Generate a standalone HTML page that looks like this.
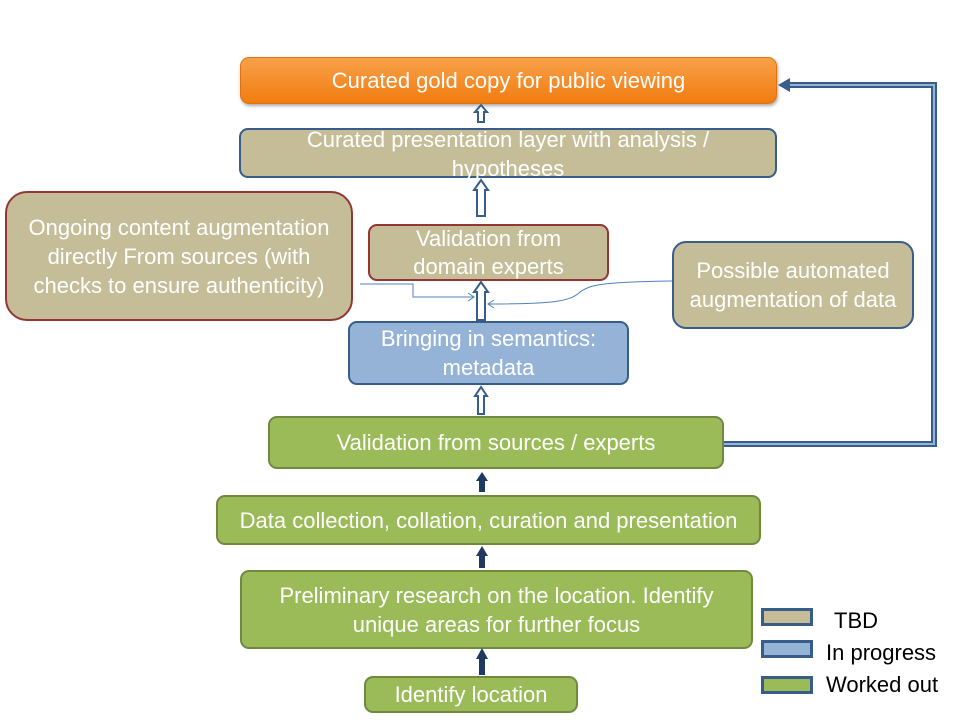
<!DOCTYPE html>
<html><head><style>
body{margin:0;width:960px;height:721px;background:#fff;position:relative;overflow:hidden;font-family:"Liberation Sans",sans-serif}
.b{position:absolute;box-sizing:border-box;display:flex;align-items:center;justify-content:center;text-align:center;color:#fff;font-size:22px;line-height:29px;border-radius:9px;border:2.5px solid #385d8a;white-space:nowrap}
.tan{background:#c4bd97}
.grn{background:#9bbb59;border-color:#71893f}
.leg{position:absolute;width:52px;height:18px;box-sizing:border-box;border:3px solid #385d8a}
.lt{position:absolute;font-size:22px;color:#000}
</style></head><body>
<div class="b" style="left:240px;top:57px;width:537px;height:47px;background:linear-gradient(#f9a14a,#f07c10);border:1px solid #e07010;box-shadow:1px 2px 3px #aaa">Curated gold copy for public viewing</div>
<div class="b tan" style="left:239px;top:128px;width:538px;height:50px;align-items:flex-start;overflow:visible"><div style="margin-top:-5px">Curated presentation layer with analysis /<br>hypotheses</div></div>
<div class="b tan" style="left:5px;top:191px;width:348px;height:130px;border-color:#943634;border-radius:22px">Ongoing content augmentation<br>directly From sources (with<br>checks to ensure authenticity)</div>
<div class="b tan" style="left:368px;top:224px;width:241px;height:57px;border-color:#943634;line-height:28px">Validation from<br>domain experts</div>
<div class="b tan" style="left:672px;top:241px;width:242px;height:88px;border-radius:14px">Possible automated<br>augmentation of data</div>
<div class="b" style="left:348px;top:321px;width:281px;height:64px;background:#95b3d7">Bringing in semantics:<br>metadata</div>
<div class="b grn" style="left:268px;top:416px;width:456px;height:53px">Validation from sources / experts</div>
<div class="b grn" style="left:216px;top:495px;width:545px;height:50px">Data collection, collation, curation and presentation</div>
<div class="b grn" style="left:240px;top:570px;width:513px;height:79px">Preliminary research on the location. Identify<br>unique areas for further focus</div>
<div class="b grn" style="left:364px;top:676px;width:214px;height:37px">Identify location</div>
<svg style="position:absolute;left:0;top:0" width="960" height="721">
<g fill="#fff" stroke="#385d8a" stroke-width="2">
<path d="M478,122 V112 H475 L481,105 L487,112 H484 V122 Z"/>
<path d="M477,216 V190 H474 L481,180 L488,190 H485 V216 Z"/>
<path d="M477,320 V292 H474 L481,282 L488,292 H485 V320 Z"/>
<path d="M478,414 V396 H475 L481,387 L487,396 H484 V414 Z"/>
</g>
<g fill="#1f3a60">
<path d="M479,492 V481 H476 L482,472 L488,481 H485 V492 Z"/>
<path d="M479,568 V556 H476 L482,546 L488,556 H485 V568 Z"/>
<path d="M479,675 V659 H476 L482,648 L488,659 H485 V675 Z"/>
</g>
<path d="M360,284 H413 V297 H474" fill="none" stroke="#4f81bd" stroke-width="1"/>
<path d="M468,293 L474,297 L468,301" fill="none" stroke="#4f81bd"/>
<path d="M672,281 C600,282 590,285 580,292 C570,302 550,304 488,304" fill="none" stroke="#4f81bd" stroke-width="1"/>
<path d="M494,300 L488,304 L494,308" fill="none" stroke="#4f81bd"/>
<path d="M724,444 H934 V85 H784" fill="none" stroke="#385d8a" stroke-width="6"/>
<path d="M724,444 H934 V85 H784" fill="none" stroke="#95b3d7" stroke-width="2"/>
<path d="M778,85 L790,78 L790,92 Z" fill="#385d8a"/>
</svg>
<div class="leg" style="left:761px;top:608px;background:#c4bd97"></div>
<div class="leg" style="left:761px;top:640px;background:#95b3d7"></div>
<div class="leg" style="left:761px;top:676px;background:#9bbb59"></div>
<div class="lt" style="left:834px;top:608px">TBD</div>
<div class="lt" style="left:826px;top:640px">In progress</div>
<div class="lt" style="left:826px;top:672px">Worked out</div>
</body></html>
